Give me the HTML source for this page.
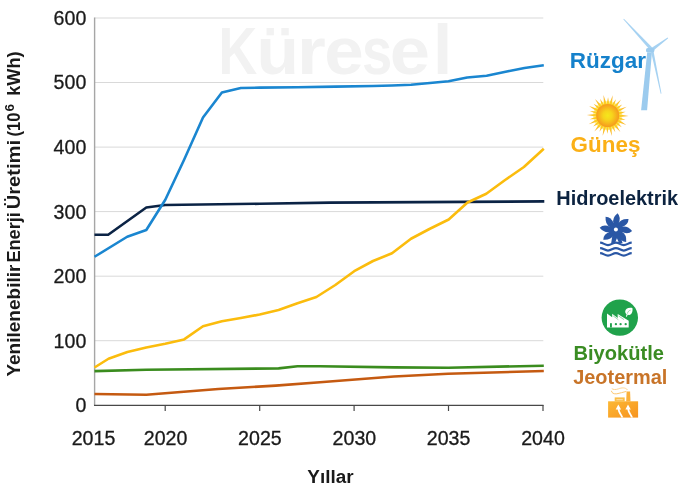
<!DOCTYPE html>
<html><head><meta charset="utf-8">
<style>
html,body{margin:0;padding:0;background:#fff;}
body{width:681px;height:490px;overflow:hidden;font-family:"Liberation Sans",sans-serif;}
svg{display:block;will-change:transform;opacity:0.999;}
text{font-family:"Liberation Sans",sans-serif;}
</style></head><body>
<svg width="681" height="490" viewBox="0 0 681 490">
<defs>
<radialGradient id="sunc" cx="50%" cy="50%" r="50%">
<stop offset="0" stop-color="#f5e71c"/><stop offset="0.4" stop-color="#f7d41c"/><stop offset="0.85" stop-color="#f6a81e"/><stop offset="1" stop-color="#f59a1e"/>
</radialGradient>
<radialGradient id="sunr" gradientUnits="userSpaceOnUse" cx="607.7" cy="115.5" r="21"><stop offset="0.5" stop-color="#fdd61c"/><stop offset="0.75" stop-color="#fcc228"/><stop offset="1" stop-color="#f9ae3a"/></radialGradient>
<linearGradient id="geo" x1="0" y1="0" x2="1" y2="1">
<stop offset="0" stop-color="#fcb834"/><stop offset="1" stop-color="#f7931e"/>
</linearGradient>
</defs>
<rect width="681" height="490" fill="#fff"/>
<!-- gridlines -->
<g stroke="#d9d9d9" stroke-width="1" fill="none">
<line x1="94.5" y1="18" x2="543.3" y2="18"/>
<line x1="94.5" y1="82.5" x2="543.3" y2="82.5"/>
<line x1="94.5" y1="147.1" x2="543.3" y2="147.1"/>
<line x1="94.5" y1="211.6" x2="543.3" y2="211.6"/>
<line x1="94.5" y1="276.2" x2="543.3" y2="276.2"/>
<line x1="94.5" y1="340.7" x2="543.3" y2="340.7"/>
</g>
<!-- watermark -->
<g font-weight="bold" fill="#f2f2f2" lengthAdjust="spacingAndGlyphs">
<text x="218.47" y="74" font-size="67.5" textLength="38.70" lengthAdjust="spacingAndGlyphs">K</text>
<text x="256.63" y="74" font-size="67" textLength="42.46" lengthAdjust="spacingAndGlyphs">ü</text>
<text x="296.94" y="74" font-size="67" textLength="28.75" lengthAdjust="spacingAndGlyphs">r</text>
<text x="324.28" y="74" font-size="67" textLength="39.49" lengthAdjust="spacingAndGlyphs">e</text>
<text x="362.01" y="74" font-size="67" textLength="30.19" lengthAdjust="spacingAndGlyphs">s</text>
<text x="389.85" y="74" font-size="67" textLength="40.24" lengthAdjust="spacingAndGlyphs">e</text>
<text x="432.90" y="74" font-size="70" textLength="19.25" lengthAdjust="spacingAndGlyphs">l</text>
</g>
<!-- axes -->
<line x1="94.6" y1="17.5" x2="94.6" y2="405.5" stroke="#a6a6a6" stroke-width="1.4"/>
<line x1="94" y1="405.3" x2="543.5" y2="405.3" stroke="#484848" stroke-width="1.3"/>
<g stroke="#484848" stroke-width="1.2">
<line x1="165.2" y1="405" x2="165.2" y2="411"/>
<line x1="259.7" y1="405" x2="259.7" y2="411"/>
<line x1="354.1" y1="405" x2="354.1" y2="411"/>
<line x1="448.5" y1="405" x2="448.5" y2="411"/>
<line x1="543" y1="405" x2="543" y2="411"/>
</g>
<!-- series -->
<g fill="none" stroke-width="2.6" stroke-linejoin="round" stroke-linecap="butt">
<polyline stroke="#0b2345" points="94.5,234.75 108.2,234.75 146.3,207.5 165.2,205 260,203.75 330,202.6 544.3,201.4"/>
<polyline stroke="#c55a11" points="94.5,394 146.3,394.7 218.3,389 275.7,385.6 320,382.2 394,376.5 448,373.8 543.8,371"/>
<polyline stroke="#3a8c1e" points="94.5,371.1 146.3,369.7 278.6,368.4 297.5,366.3 320,366.3 394.3,367.4 448.3,367.7 543.8,365.7"/>
<polyline stroke="#fbbc0d" points="94.5,367.5 108.5,358.75 127.4,352 146.3,347.5 165.2,343.75 184.1,339.4 203,326.25 221.9,321.25 240.8,318 259.7,314.5 278.6,310 297.5,303.25 316.4,297 335.3,285 354.2,271.2 373,261 392,253.3 411,238.75 429.9,228.75 448.7,219.5 467.5,202.5 486.3,193.75 505.1,180 523.9,167 543.8,148.75"/>
<polyline stroke="#1a86d0" points="94.5,256.75 127.2,236.75 146.3,230 165.3,199.8 184.1,159.8 203,117.5 221.9,92.5 240.8,88 259.7,87.6 297.5,87.2 335.3,86.6 373,86 392,85.5 411,84.8 429.9,83 448.5,81.25 467.2,77.5 486.6,75.75 508,71.25 524.5,68 543.8,65.25"/>
</g>
<!-- y tick labels -->
<g font-size="19.6" fill="#1a1a1a" stroke="#1a1a1a" stroke-width="0.3" text-anchor="end">
<text x="86.3" y="24.9">600</text>
<text x="86.3" y="89.4">500</text>
<text x="86.3" y="154">400</text>
<text x="86.3" y="218.5">300</text>
<text x="86.3" y="283.1">200</text>
<text x="86.3" y="347.6">100</text>
<text x="86.3" y="412.1">0</text>
</g>
<!-- x tick labels -->
<g font-size="19.6" fill="#1a1a1a" stroke="#1a1a1a" stroke-width="0.3" text-anchor="middle">
<text x="93.5" y="444.8">2015</text>
<text x="165.6" y="444.8">2020</text>
<text x="259.9" y="444.8">2025</text>
<text x="354.4" y="444.8">2030</text>
<text x="448.6" y="444.8">2035</text>
<text x="543" y="444.8">2040</text>
</g>
<text x="307.3" y="483.4" font-size="18.8" font-weight="bold" fill="#1a1a1a" textLength="46.2" lengthAdjust="spacingAndGlyphs">Yıllar</text>
<!-- y axis title -->
<g transform="translate(19.8,0) rotate(-90)" font-size="18" font-weight="bold" fill="#1a1a1a">
<text x="-376.6" y="0" textLength="112" lengthAdjust="spacingAndGlyphs">Yenilenebilir</text>
<text x="-262.6" y="0" textLength="50.4" lengthAdjust="spacingAndGlyphs">Enerji</text>
<text x="-209.3" y="0" textLength="69.4" lengthAdjust="spacingAndGlyphs">Üretimi</text>
<text x="-136.6" y="0" textLength="24" lengthAdjust="spacingAndGlyphs">(10</text>
<text x="-111.6" y="-5.6" font-size="12.5" textLength="7.6" lengthAdjust="spacingAndGlyphs">6</text>
<text x="-95.8" y="0" textLength="44.4" lengthAdjust="spacingAndGlyphs">kWh)</text>
</g>
<!-- legend labels -->
<text x="569.7" y="67.5" font-size="21.6" font-weight="bold" fill="#1581cb" textLength="76.2" lengthAdjust="spacingAndGlyphs">Rüzgar</text>
<text x="570.6" y="151.7" font-size="21.3" font-weight="bold" fill="#fbb017" textLength="69.8" lengthAdjust="spacingAndGlyphs">Güneş</text>
<text x="556.3" y="205" font-size="20.4" font-weight="bold" fill="#0c2340" textLength="121.8" lengthAdjust="spacingAndGlyphs">Hidroelektrik</text>
<text x="573.5" y="359.9" font-size="20" font-weight="bold" fill="#3a8c23" textLength="90.5" lengthAdjust="spacingAndGlyphs">Biyokütle</text>
<text x="573.2" y="384.3" font-size="20" font-weight="bold" fill="#c87428" textLength="94.2" lengthAdjust="spacingAndGlyphs">Jeotermal</text>
<!-- wind turbine -->
<g stroke="none">
<polygon fill="#9ccbee" points="647.2,52.6 651.9,52.6 647.1,110.3 641.1,110.3"/>
<g fill="#a6d2f2">
<polygon points="653.2,48.4 650.6,50.8 623.3,19.3 623.9,18.7"/>
<polygon points="652.9,51 651,48.3 667.6,37.5 668.2,38.3"/>
<polygon points="653.2,49.3 650.6,49.9 660.7,93.7 661.5,93.5"/>
</g>
<rect x="646" y="48" width="8.4" height="4.6" rx="1.8" fill="#9ccbee"/>
</g>
<!-- sun -->
<g id="sun">
<circle cx="607.7" cy="115.5" r="14.6" fill="#fde04a" opacity="0.55"/>
<g fill="url(#sunr)">
<polygon points="618.43,114.26 628.60,115.92 618.37,117.17"/>
<polygon points="618.44,116.68 625.46,119.93 617.73,119.50"/>
<polygon points="617.90,119.04 626.35,124.94 616.59,121.63"/>
<polygon points="616.86,121.22 621.78,127.19 615.00,123.46"/>
<polygon points="615.36,123.12 620.40,132.10 613.05,124.88"/>
<polygon points="613.47,124.63 615.31,132.14 610.83,125.84"/>
<polygon points="611.30,125.68 611.94,135.96 608.45,126.27"/>
<polygon points="608.94,126.23 607.33,133.80 606.03,126.17"/>
<polygon points="606.52,126.24 602.64,135.78 603.70,125.53"/>
<polygon points="604.16,125.70 599.43,131.83 601.57,124.39"/>
<polygon points="601.98,124.66 594.34,131.58 599.74,122.80"/>
<polygon points="600.08,123.16 593.17,126.62 598.32,120.85"/>
<polygon points="598.57,121.27 588.69,124.19 597.36,118.63"/>
<polygon points="597.52,119.10 589.78,119.21 596.93,116.25"/>
<polygon points="596.97,116.74 586.80,115.08 597.03,113.83"/>
<polygon points="596.96,114.32 589.94,111.07 597.67,111.50"/>
<polygon points="597.50,111.96 589.05,106.06 598.81,109.37"/>
<polygon points="598.54,109.78 593.62,103.81 600.40,107.54"/>
<polygon points="600.04,107.88 595.00,98.90 602.35,106.12"/>
<polygon points="601.93,106.37 600.09,98.86 604.57,105.16"/>
<polygon points="604.10,105.32 603.46,95.04 606.95,104.73"/>
<polygon points="606.46,104.77 608.07,97.20 609.37,104.83"/>
<polygon points="608.88,104.76 612.76,95.22 611.70,105.47"/>
<polygon points="611.24,105.30 615.97,99.17 613.83,106.61"/>
<polygon points="613.42,106.34 621.06,99.42 615.66,108.20"/>
<polygon points="615.32,107.84 622.23,104.38 617.08,110.15"/>
<polygon points="616.83,109.73 626.71,106.81 618.04,112.37"/>
<polygon points="617.88,111.90 625.62,111.79 618.47,114.75"/>
</g>
<circle cx="607.7" cy="115.5" r="11.5" fill="url(#sunc)"/>
</g>
<!-- hydro -->
<g id="hydro" fill="#2a57a5">
<path d="M613.45,223.92 Q611.67,218.17 617.53,213.18 Q621.61,217.28 618.35,223.92 Z"/>
<path d="M618.04,223.80 Q620.85,218.47 628.52,219.08 Q628.51,224.86 621.50,227.26 Z"/>
<path d="M621.38,226.95 Q627.13,225.17 632.12,231.03 Q628.02,235.11 621.38,231.85 Z"/>
<path d="M621.50,231.54 Q626.83,234.35 626.22,242.02 Q620.44,242.01 618.04,235.00 Z"/>
<path d="M613.76,235.00 Q610.95,240.33 603.28,239.72 Q603.29,233.94 610.30,231.54 Z"/>
<path d="M610.42,231.85 Q604.67,233.63 599.68,227.77 Q603.78,223.69 610.42,226.95 Z"/>
<path d="M610.30,227.26 Q604.97,224.45 605.58,216.78 Q611.36,216.79 613.76,223.80 Z"/>
<circle cx="615.90" cy="229.40" r="7.0"/>
<polygon points="612.8,233 619.4,233 622.6,243 611.2,243"/>
<circle cx="615.90" cy="229.40" r="2" fill="#fff"/>
<polygon points="616.9,238.3 618.7,242.2 615.3,242.2" fill="#fff"/>
<path d="M600.10,242.65 C603.26,242.65 604.84,245.15 608.00,245.15 C611.16,245.15 612.74,242.65 615.90,242.65 C619.06,242.65 620.64,245.15 623.80,245.15 C626.96,245.15 628.54,242.65 631.70,242.65" fill="none" stroke="#2a57a5" stroke-width="2.2"/>
<path d="M600.10,248.05 C603.26,248.05 604.84,250.55 608.00,250.55 C611.16,250.55 612.74,248.05 615.90,248.05 C619.06,248.05 620.64,250.55 623.80,250.55 C626.96,250.55 628.54,248.05 631.70,248.05" fill="none" stroke="#2a57a5" stroke-width="2.2"/>
<path d="M600.10,253.15 C603.26,253.15 604.84,255.65 608.00,255.65 C611.16,255.65 612.74,253.15 615.90,253.15 C619.06,253.15 620.64,255.65 623.80,255.65 C626.96,255.65 628.54,253.15 631.70,253.15" fill="none" stroke="#2a57a5" stroke-width="2.2"/>
</g>
<!-- biomass -->
<circle cx="619.8" cy="317.65" r="18.2" fill="#20a24b"/>
<g fill="#fff">
<path d="M607,313.4 L612.2,317.3 L612.2,313.7 L617.7,317.9 L617.7,314 L628.7,320.8 L628.7,327.5 L607,327.5 Z"/>
<path d="M632.4,307.9 C628.6,307.2 625.2,308.2 625.2,311.6 C625.2,312.8 625.7,313.7 626.6,314.3 L625.9,316.4 L626.9,316.7 L627.6,314.8 C630.9,315.6 633.2,312.6 632.4,307.9 Z"/>
</g>
<g stroke="#20a24b" stroke-width="0.7" opacity="0.65" fill="none">
<line x1="613.1" y1="315.8" x2="618.3" y2="319.7"/>
<line x1="618.5" y1="315.9" x2="624" y2="319.6"/>
<path d="M627.4,313.6 C627.8,311.6 629,310.4 630.6,310.2"/>
</g>
<g fill="#20a24b">
<rect x="610" y="323.2" width="1.9" height="4.3"/>
<circle cx="615.9" cy="324.2" r="1.15"/><circle cx="620.6" cy="324.2" r="1.15"/><circle cx="625.7" cy="324.2" r="1.15"/>
</g>
<!-- geothermal -->
<g>
<rect x="608.1" y="401.3" width="30" height="16.3" fill="url(#geo)"/>
<rect x="614.7" y="397.4" width="10" height="4.2" fill="#fbbe48"/>
<rect x="616.4" y="399.2" width="6.4" height="1" fill="#fde2ae"/>
<polygon points="626.6,391.4 630.1,391.4 630.5,401.6 626.2,401.6" fill="#fbb03a"/>
<path d="M627.6,390 C625.5,387.2 621.5,387.6 618.5,388.8 C615.5,390 613,389.6 611.8,388.6" fill="none" stroke="#fcd08a" stroke-width="0.9"/>
<path d="M626.4,391.4 C623,392 620,393.4 616.8,393.8 C613.8,394.2 611.6,393 611.4,390.8" fill="none" stroke="#fcc772" stroke-width="1"/>
<g fill="#fff">
<path d="M618.3,404.4 L621.1,409.4 L619.5,409.4 C619.9,412.3 622.3,414.2 623.3,417.6 L621.3,417.6 C620.3,414.6 618.1,412.6 617.7,409.4 L615.7,409.4 Z"/>
<path d="M628,404.4 L630.8,409.4 L629.2,409.4 C629.6,412.3 632,414.2 633,417.6 L631,417.6 C630,414.6 627.8,412.6 627.4,409.4 L625.4,409.4 Z"/>
</g>
</g>
</svg>
</body></html>
